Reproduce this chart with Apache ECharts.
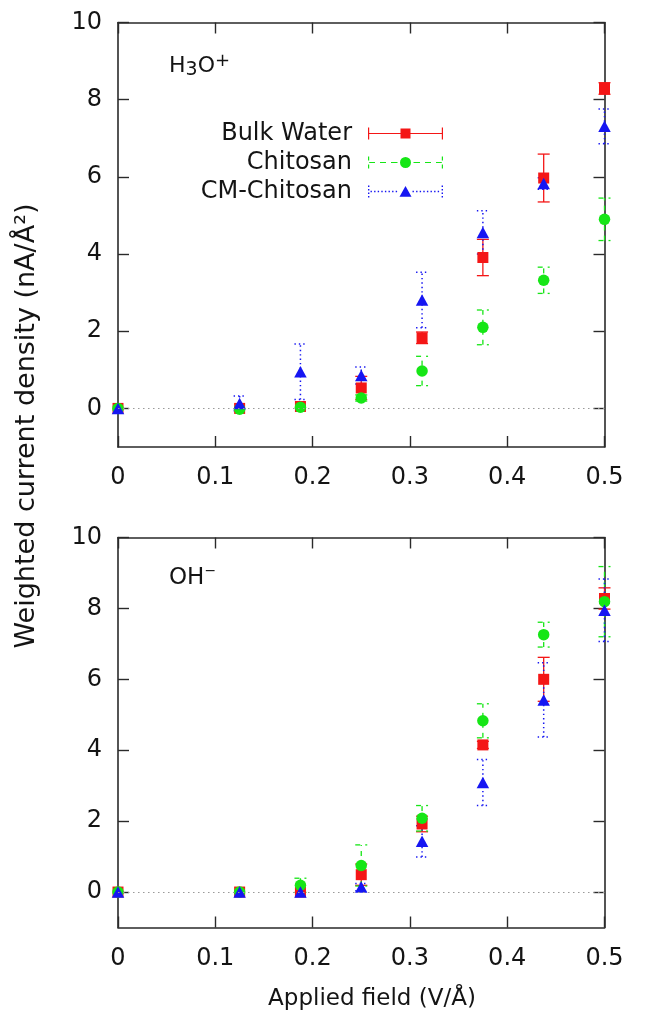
<!DOCTYPE html>
<html><head><meta charset="utf-8">
<script src="https://cdn.jsdelivr.net/npm/echarts@6/dist/echarts.min.js"></script>
<style>html,body{margin:0;padding:0;background:#fff}#c{width:645px;height:1014px}</style>
</head><body><div id="c"></div>
<script>
// ---------- data ----------
const xValues = [0, 0.125, 0.1875, 0.25, 0.3125, 0.375, 0.4375, 0.5];
const xTicks = [0, 0.1, 0.2, 0.3, 0.4, 0.5];
const xTickLabels = ['0', '0.1', '0.2', '0.3', '0.4', '0.5'];
const yTicks = [0, 2, 4, 6, 8, 10];
const yTickLabels = ['0', '2', '4', '6', '8', '10'];
const seriesNames = ['Bulk Water', 'Chitosan', 'CM-Chitosan'];

// H3O+ panel
const h3oBulk    = [0, 0, 0.05, 0.53, 1.83, 3.91, 5.97, 8.29];
const h3oBulkErr = [0, 0, 0, 0.30, 0.15, 0.47, 0.62, 0.15];
const h3oChit    = [0, -0.02, 0.03, 0.27, 0.97, 2.10, 3.32, 4.90];
const h3oChitErr = [0, 0, 0, 0.08, 0.38, 0.45, 0.34, 0.55];
const h3oCM      = [0, 0.13, 0.95, 0.85, 2.81, 4.56, 5.83, 7.31];
const h3oCMErr   = [0, 0.19, 0.72, 0.22, 0.72, 0.56, 0.15, 0.45];

// OH- panel
const ohBulk    = [0, 0, 0, 0.49, 1.92, 4.15, 6.00, 8.28];
const ohBulkErr = [0, 0, 0, 0.30, 0.22, 0.10, 0.62, 0.30];
const ohChit    = [0, 0, 0.19, 0.75, 2.08, 4.83, 7.26, 8.19];
const ohChitErr = [0, 0, 0.20, 0.58, 0.36, 0.48, 0.35, 0.99];
const ohCM      = [0, 0, 0, 0.14, 1.43, 3.09, 5.42, 7.95];
const ohCMErr   = [0, 0, 0, 0.10, 0.44, 0.65, 1.05, 0.88];

// ---------- styling ----------
const colors = ['#f41616', '#16e616', '#1616f2'];
const symbols = ['rect', 'circle', 'triangle'];
const dashes = [null, [5, 5], [1.4, 3]];
const FONT = 'DejaVu Sans';
const TXT = '#141414';
const AX = '#2a2a2a';

// legend icons (line + caps + marker), bbox 75 x 12
function rect(x, y, w, h) { return `M${x},${y}H${x + w}V${y + h}H${x}Z`; }
const iconBulk = 'path://' + rect(1.2, 5.4, 31.3, 1.2) + rect(42.5, 5.4, 31.3, 1.2) +
  rect(0, 0, 1.2, 12) + rect(73.8, 0, 1.2, 12) + rect(32.5, 1, 10, 10);
let g = '';
[[1.2, 7], [12, 18], [23, 29.5], [45.5, 52], [57, 63], [68, 73.8]].forEach(s => g += rect(s[0], 5.4, s[1] - s[0], 1.2));
g += rect(0, 0, 1.2, 4) + rect(0, 8, 1.2, 4) + rect(73.8, 0, 1.2, 4) + rect(73.8, 8, 1.2, 4);
g += 'M32,6A5.5,5.5 0 1 1 43,6A5.5,5.5 0 1 1 32,6Z';
const iconChit = 'path://' + g;
let b = '';
for (let x = 2.5; x < 30; x += 3.6) b += rect(x, 5.3, 1.4, 1.4);
for (let x = 44.5; x < 72; x += 3.6) b += rect(x, 5.3, 1.4, 1.4);
for (let y = 0; y <= 10.6; y += 3.53) { b += rect(0, y, 1.4, 1.4); b += rect(73.6, y, 1.4, 1.4); }
b += 'M37.5,0.6L43.5,11.2L31.5,11.2Z';
const iconCM = 'path://' + b;
const legendIcons = [iconBulk, iconChit, iconCM];

function errRender(color, dash, width) {
  return function (params, api) {
    const x = api.value(0), y = api.value(1), e = api.value(2);
    if (!e) return null;
    const p0 = api.coord([x, y - e]), p1 = api.coord([x, y + e]);
    const cap = 6;
    const style = { stroke: color, lineWidth: width, lineDash: dash || null, fill: null };
    return {
      type: 'group', children: [
        { type: 'line', shape: { x1: p0[0], y1: p0[1], x2: p1[0], y2: p1[1] }, style },
        { type: 'line', shape: { x1: p0[0] - cap, y1: p0[1], x2: p0[0] + cap, y2: p0[1] }, style },
        { type: 'line', shape: { x1: p1[0] - cap, y1: p1[1], x2: p1[0] + cap, y2: p1[1] }, style }
      ]
    };
  };
}

const panels = [
  { vals: [h3oBulk, h3oChit, h3oCM], errs: [h3oBulkErr, h3oChitErr, h3oCMErr] },
  { vals: [ohBulk, ohChit, ohCM], errs: [ohBulkErr, ohChitErr, ohCMErr] }
];

const grids = [
  { left: 118, top: 22.5, width: 486.5, height: 424.5 },
  { left: 118, top: 537.5, width: 486.5, height: 390 }
];

const xAxes = [], yAxes = [], series = [];
grids.forEach((gr, gi) => {
  [['bottom', true], ['top', false]].forEach(([pos, lab]) => {
    xAxes.push({
      type: 'value', gridIndex: gi, position: pos, min: 0, max: 0.5,
      axisLine: { show: true, onZero: false, lineStyle: { color: AX, width: 1.6 } },
      axisTick: { show: true, inside: true, length: 11, customValues: xTicks, lineStyle: { color: AX, width: 1.4 } },
      axisLabel: {
        show: lab, customValues: xTicks, margin: 19,
        formatter: v => xTickLabels[xTicks.indexOf(v)] ?? '',
        fontFamily: FONT, fontSize: 24, color: TXT
      },
      splitLine: { show: false }
    });
  });
  [['left', true], ['right', false]].forEach(([pos, lab]) => {
    yAxes.push({
      type: 'value', gridIndex: gi, position: pos, min: -1, max: 10,
      axisLine: { show: true, onZero: false, lineStyle: { color: AX, width: 1.6 } },
      axisTick: { show: true, inside: true, length: 11, customValues: yTicks, lineStyle: { color: AX, width: 1.4 } },
      axisLabel: {
        show: lab, customValues: yTicks, margin: 16,
        formatter: v => yTickLabels[yTicks.indexOf(v)] ?? '',
        fontFamily: FONT, fontSize: 24, color: TXT
      },
      splitLine: { show: false }
    });
  });
  const xi = gi * 2, yi = gi * 2;
  const p = panels[gi];
  seriesNames.forEach((name, si) => {
    const errSeries = {
      type: 'custom', name: name + ' error', xAxisIndex: xi, yAxisIndex: yi,
      renderItem: errRender(colors[si], dashes[si], si === 2 ? 1.5 : 1.3),
      data: xValues.map((x, i) => [x, p.vals[si][i], p.errs[si][i]]),
      encode: { x: 0, y: 1 }, silent: true, clip: false
    };
    if (si === 0) {
      errSeries.markLine = {
        silent: true, symbol: 'none', label: { show: false },
        lineStyle: { color: '#9a9a9a', type: [1.5, 3.5], width: 1.2 },
        data: [{ yAxis: 0 }], animation: false
      };
    }
    series.push(errSeries);
    series.push({
      type: 'scatter', name, xAxisIndex: xi, yAxisIndex: yi,
      symbol: symbols[si], symbolSize: si === 2 ? [12.5, 11.5] : (si === 1 ? 11.5 : 11),
      itemStyle: { color: colors[si], opacity: 1 },
      data: xValues.map((x, i) => [x, p.vals[si][i]]),
      clip: false, emphasis: { disabled: true }, silent: true
    });
  });
});

const legendRows = [133.5, 162.5, 191.5];
const legends = seriesNames.map((n, i) => ({
  data: [{ name: n, icon: legendIcons[i] }],
  right: 202, top: legendRows[i] - 12, padding: 0,
  itemWidth: 75, itemHeight: 12, itemGap: 0, align: 'right', selectedMode: false,
  textStyle: { fontFamily: FONT, fontSize: 24, lineHeight: 24, color: TXT, padding: [0, 11, 0, 0] }
}));

const chart = echarts.init(document.getElementById('c'), null, { renderer: 'canvas' });
chart.setOption({
  animation: false,
  backgroundColor: '#fff',
  grid: grids,
  xAxis: xAxes,
  yAxis: yAxes,
  legend: legends,
  series,
  graphic: [
    {
      type: 'text', x: 27, y: 426, rotation: Math.PI / 2,
      style: { text: 'Weighted current density (nA/Å²)', fontFamily: FONT, fontSize: 27, fill: TXT, align: 'center', verticalAlign: 'middle' }
    },
    {
      type: 'text', x: 372, y: 999,
      style: { text: 'Applied field (V/Å)', fontFamily: FONT, fontSize: 23, fill: TXT, align: 'center', verticalAlign: 'middle' }
    },
    {
      type: 'text', x: 169, y: 66,
      style: {
        text: '{m|H}{s|3}{m|O}{p|+}', align: 'left', verticalAlign: 'middle', fill: TXT,
        rich: {
          m: { fontFamily: FONT, fontSize: 22, lineHeight: 28, fill: TXT, verticalAlign: 'middle' },
          s: { fontFamily: FONT, fontSize: 19, lineHeight: 19, fill: TXT, verticalAlign: 'bottom' },
          p: { fontFamily: FONT, fontSize: 18, lineHeight: 21, fill: TXT, verticalAlign: 'top' }
        }
      }
    },
    {
      type: 'text', x: 169, y: 578,
      style: {
        text: '{m|OH}{p|−}', align: 'left', verticalAlign: 'middle', fill: TXT,
        rich: {
          m: { fontFamily: FONT, fontSize: 23, lineHeight: 28, fill: TXT, verticalAlign: 'middle' },
          p: { fontFamily: FONT, fontSize: 14, lineHeight: 17, fill: TXT, verticalAlign: 'top' }
        }
      }
    }
  ]
});
</script>
</body></html>
